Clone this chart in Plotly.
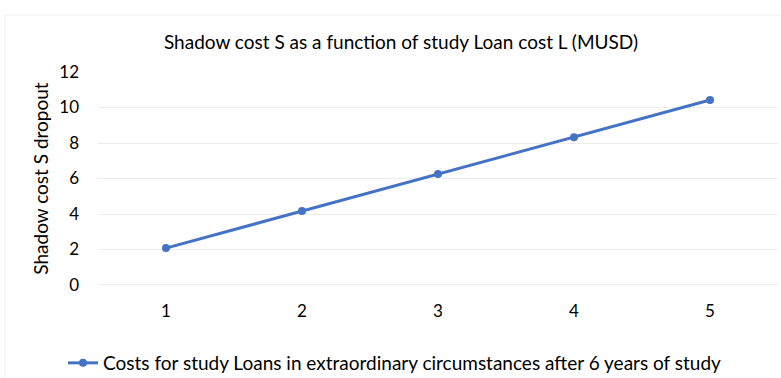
import plotly.graph_objects as go

categories = ["1", "2", "3", "4", "5"]
values = [2.08, 4.17, 6.25, 8.33, 10.42]
series_name = "Costs for study Loans in extraordinary circumstances after 6 years of study"
title = "Shadow cost S as a function of study Loan cost L (MUSD)"
y_title = "Shadow cost S dropout"

FONT = "Lato, 'Open Sans', sans-serif"
BLUE = "#4472C4"

fig = go.Figure()
fig.add_trace(go.Scatter(
    x=categories, y=values, mode="lines+markers", name=series_name,
    line=dict(color=BLUE, width=3),
    marker=dict(color=BLUE, size=8),
))

W, H = 781, 378
L, R, T, B = 98, 3, 72, 93
pw, ph = W - L - R, H - T - B

fig.update_layout(
    width=W, height=H,
    margin=dict(l=L, r=R, t=T, b=B),
    paper_bgcolor="white", plot_bgcolor="white",
    font=dict(family=FONT, color="#000000", size=17),
    title=dict(text=title, x=401 / W, xref="container", xanchor="center",
               y=1 - 42 / H, yref="container", yanchor="middle",
               font=dict(family=FONT, size=19, color="#000000")),
    xaxis=dict(type="category", range=[-0.5, 4.5], showgrid=False,
               showline=False, ticks="", tickfont=dict(size=17, color="#000000"),
               zeroline=False, ticklabelstandoff=14),
    yaxis=dict(range=[0, 12], dtick=2, showgrid=True, gridcolor="#EDEDED",
               gridwidth=1, zeroline=False, showline=False, ticks="",
               tickfont=dict(size=17, color="#000000"), ticklabelstandoff=18,
               title=dict(text=y_title, font=dict(size=19, color="#000000"), standoff=5)),
    showlegend=True,
    legend=dict(orientation="h", x=395 / W, xanchor="center", xref="container",
                y=(H - 363) / H, yref="container", yanchor="middle",
                font=dict(size=19, color="#000000"), bgcolor="rgba(0,0,0,0)"),
)

# baseline at y=0
fig.add_shape(type="line", xref="paper", yref="y", x0=0, x1=1, y0=0, y1=0,
              line=dict(color="#D9D9D9", width=1))
# outer chart frame
fig.add_shape(type="rect", xref="paper", yref="paper",
              x0=(5 - L) / pw, x1=(W + 5 - L) / pw,
              y0=(H - B - 400) / ph, y1=(H - B - 15) / ph,
              line=dict(color="#F0F0F0", width=1), layer="below")

fig.write_html("out.html")
